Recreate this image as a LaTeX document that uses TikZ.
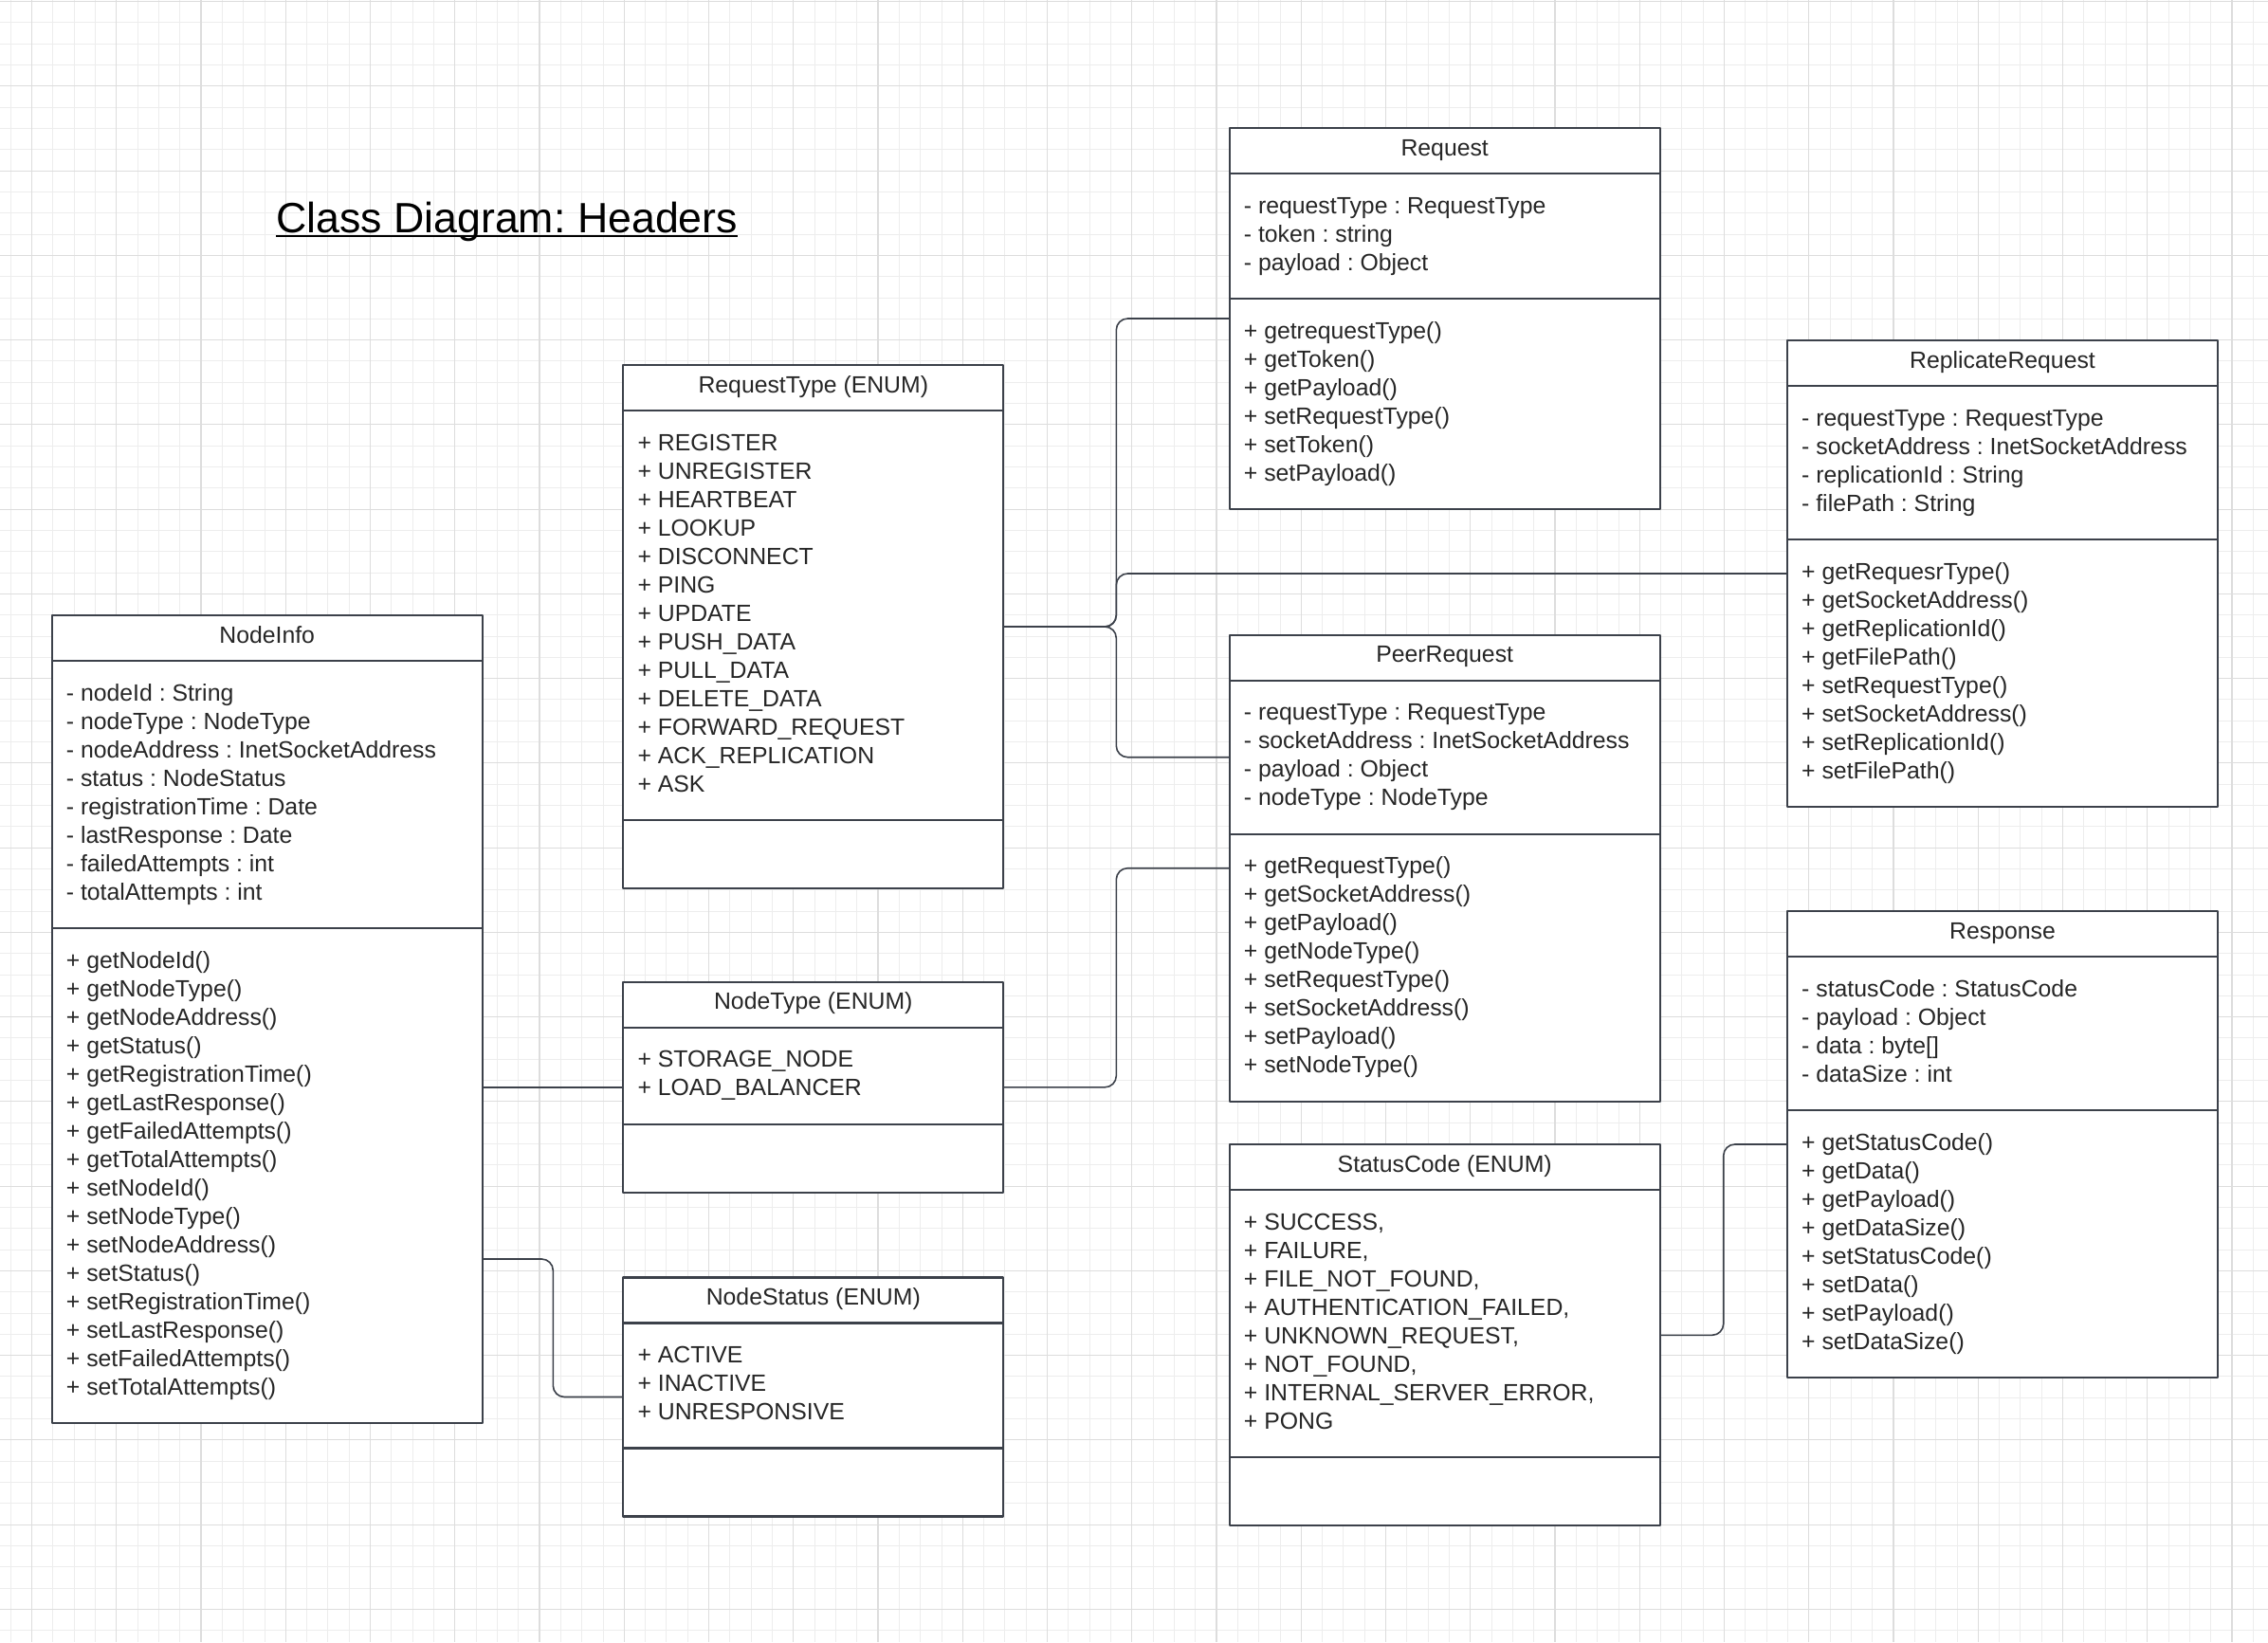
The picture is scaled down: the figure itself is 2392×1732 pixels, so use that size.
\documentclass[tikz,border=0pt]{standalone}
\usepackage{fontspec}
\setmainfont{Liberation Sans}
\frenchspacing
\definecolor{boxline}{RGB}{60,65,74}
\definecolor{txtcol}{RGB}{38,38,38}
\definecolor{gridminor}{RGB}{237,237,237}
\definecolor{gridmajor}{RGB}{221,221,221}
\tikzset{
  gridfine/.style={draw=gridminor,line width=0.9pt},
  gridbold/.style={draw=gridmajor,line width=1.2pt},
  umlbox/.style={draw=boxline,fill=white,line width=2.3pt,inner sep=0pt,outer sep=0pt,anchor=north west},
  umlline/.style={draw=boxline,line width=2.3pt},
  umlhead/.style={anchor=base,inner sep=0pt,text=txtcol},
  umltext/.style={anchor=base west,inner sep=0pt,text=txtcol},
  conn/.style={draw=boxline,line width=1.6pt,rounded corners=12pt},
}
%% class box: name, left, top, width, title, fields, operations
\newcommand{\umlclass}[7]{%
  \foreach \t [count=\i] in {#6}{\xdef\cntA{\i}}
  \foreach \t [count=\i] in {#7}{\xdef\cntM{\i}}
  \pgfmathsetmacro\ydiv{#3+48+30*\cntA+42}
  \pgfmathsetmacro\hcls{48+30*\cntA+42+30*\cntM+42}
  \node[umlbox,minimum width=#4pt,minimum height=\hcls pt] (#1) at (#2,#3) {};
  \coordinate (#1-fields) at (#2,#3+69+15*\cntA);
  \draw[umlline] (#2,#3+48) -- ++(#4,0) (#2,\ydiv) -- ++(#4,0);
  \node[umlhead] at (#2+#4/2,#3+29) {#5};
  \foreach \t [count=\i] in {#6}
    \node[umltext] at (#2+15,#3+60+30*\i) {\t};
  \foreach \t [count=\i] in {#7}
    \node[umltext] at (#2+15,\ydiv+12+30*\i) {\t};
}
\begin{document}
\begin{tikzpicture}[x=1pt,y=-1pt,line join=round,font=\fontsize{24.8}{30}\selectfont\frenchspacing]
%%Grid
\fill[white] (0,0) rectangle (2392,1732);
\useasboundingbox (0,0) rectangle (2392,1732);
\foreach \i in {0,...,107}
  \draw[gridfine] (11.2+22.3125*\i,0) -- ++(0,1732);
\foreach \i in {0,...,77}
  \draw[gridfine] (0,1.6+22.3125*\i) -- ++(2392,0);
\foreach \i in {0,...,26}
  \draw[gridbold] (33.5+89.25*\i,0) -- ++(0,1732);
\foreach \i in {0,...,19}
  \draw[gridbold] (0,1.6+89.25*\i) -- ++(2392,0);
%%Title
\node[anchor=base west,inner sep=0pt,font=\fontsize{44.7}{54}\selectfont\frenchspacing] (ttl) at (291,245) {Class Diagram: Headers};
\draw[line width=2.6pt] ([yshift=-4pt]ttl.base west) -- ([yshift=-4pt]ttl.base east);
%%Classes
\umlclass{req}{1296.7}{135}{454}{Request}
  {- requestType : RequestType,- token : string,- payload : Object}
  {+ getrequestType(),+ getToken(),+ getPayload(),+ setRequestType(),+ setToken(),+ setPayload()}
\umlclass{rtype}{657.3}{385}{401}{RequestType (ENUM)}
  {+ REGISTER,+ UNREGISTER,+ HEARTBEAT,+ LOOKUP,+ DISCONNECT,+ PING,+ UPDATE,+ PUSH\_DATA,+ PULL\_DATA,+ DELETE\_DATA,+ FORWARD\_REQUEST,+ ACK\_REPLICATION,+ ASK}
  {\mbox{}}
\umlclass{repl}{1885}{359}{454}{ReplicateRequest}
  {- requestType : RequestType,- socketAddress : InetSocketAddress,- replicationId : String,- filePath : String}
  {+ getRequesrType(),+ getSocketAddress(),+ getReplicationId(),+ getFilePath(),+ setRequestType(),+ setSocketAddress(),+ setReplicationId(),+ setFilePath()}
\umlclass{ninfo}{54.7}{649}{454}{NodeInfo}
  {- nodeId : String,- nodeType : NodeType,- nodeAddress : InetSocketAddress,- status : NodeStatus,- registrationTime : Date,- lastResponse : Date,- failedAttempts : int,- totalAttempts : int}
  {+ getNodeId(),+ getNodeType(),+ getNodeAddress(),+ getStatus(),+ getRegistrationTime(),+ getLastResponse(),+ getFailedAttempts(),+ getTotalAttempts(),+ setNodeId(),+ setNodeType(),+ setNodeAddress(),+ setStatus(),+ setRegistrationTime(),+ setLastResponse(),+ setFailedAttempts(),+ setTotalAttempts()}
\umlclass{peer}{1296.7}{669.7}{454}{PeerRequest}
  {- requestType : RequestType,- socketAddress : InetSocketAddress,- payload : Object,- nodeType : NodeType}
  {+ getRequestType(),+ getSocketAddress(),+ getPayload(),+ getNodeType(),+ setRequestType(),+ setSocketAddress(),+ setPayload(),+ setNodeType()}
\umlclass{ntype}{657.3}{1035.8}{401}{NodeType (ENUM)}
  {+ STORAGE\_NODE,+ LOAD\_BALANCER}
  {\mbox{}}
\umlclass{resp}{1885}{961}{454}{Response}
  {- statusCode : StatusCode,- payload : Object,- data : byte[],- dataSize : int}
  {+ getStatusCode(),+ getData(),+ getPayload(),+ getDataSize(),+ setStatusCode(),+ setData(),+ setPayload(),+ setDataSize()}
\umlclass{stat}{1296.7}{1207.3}{454}{StatusCode (ENUM)}
  {{+ SUCCESS,},{+ FAILURE,},{+ FILE\_NOT\_FOUND,},{+ AUTHENTICATION\_FAILED,},{+ UNKNOWN\_REQUEST,},{+ NOT\_FOUND,},{+ INTERNAL\_SERVER\_ERROR,},+ PONG}
  {\mbox{}}
\umlclass{nstatus}{657.3}{1347.5}{401}{NodeStatus (ENUM)}
  {+ ACTIVE,+ INACTIVE,+ UNRESPONSIVE}
  {\mbox{}}
%%Connectors
\coordinate (ninfo-out) at ([shift={(0,253)}]ninfo.east);
\draw[conn] (rtype.east) -- ++(119,0) |- (req.west);
\draw[conn] (rtype.east) -- ++(119,0) |- (repl.west);
\draw[conn] (rtype.east) -- ++(119,0) |- (peer-fields);
\draw[conn] (ninfo.east|-ntype.west) -- (ntype.west);
\draw[conn] (ntype.east) -- ++(119,0) |- (peer.west);
\draw[conn] (ninfo-out) -- ++(74.6,0) |- (nstatus.west);
\draw[conn] (stat.east) -- ++(67,0) |- (resp.west);
\end{tikzpicture}
\end{document}
